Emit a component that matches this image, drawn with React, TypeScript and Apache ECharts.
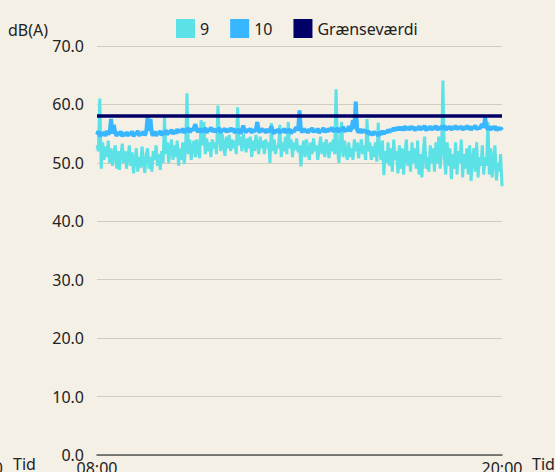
import React, { useEffect, useRef } from "react";
import * as echarts from "echarts";

// one reading every 2.5 minutes from 08:00 to 20:00 (rows = 30 minutes)
const STEP_MIN = 2.5;
const START_MIN = 8 * 60;
const series9: number[] = [
  53.0, 52.0, 61.0, 49.0, 53.5, 50.5, 52.8, 51.0, 53.8, 50.0, 52.5, 49.5,
  51.5, 53.0, 49.0, 52.0, 48.8, 51.5, 53.3, 50.0, 52.0, 49.0, 51.0, 53.0,
  49.5, 51.8, 48.2, 50.5, 52.5, 48.5, 51.0, 49.2, 52.8, 50.0, 48.3, 51.5,
  52.5, 49.0, 51.0, 48.5, 52.0, 50.5, 53.0, 49.5, 51.5, 48.8, 52.0, 50.0,
  58.0, 51.5, 53.5, 50.0, 52.5, 54.0, 50.5, 53.0, 51.0, 53.8, 49.5, 52.5,
  50.5, 53.5, 49.8, 52.5, 61.9, 51.5, 54.0, 50.5, 52.8, 53.8, 51.0, 54.0,
  52.0, 50.8, 57.3, 53.0, 57.0, 51.5, 54.2, 52.0, 53.5, 51.0, 54.0, 52.5,
  53.5, 51.5, 59.8, 54.5, 52.0, 55.0, 53.0, 51.2, 54.5, 52.5, 54.8, 52.0,
  54.0, 52.5, 53.8, 51.5, 59.5, 53.0, 54.5, 52.0, 55.0, 53.5, 51.8, 54.2,
  52.5, 54.5, 51.0, 53.8, 52.0, 54.8, 53.0, 51.5, 54.5, 52.5, 53.8, 51.5,
  54.0, 52.5, 53.5, 50.0, 56.8, 52.0, 54.0, 51.5, 53.0, 52.5, 56.5, 51.0,
  53.5, 52.0, 54.5, 51.5, 57.0, 52.5, 54.0, 51.0, 53.5, 52.2, 54.2, 51.8,
  53.0, 49.4, 52.5, 53.8, 51.0, 54.0, 52.0, 50.5, 53.5, 51.5, 54.2, 52.0,
  53.0, 50.5, 52.5, 54.5, 51.5, 53.5, 51.0, 54.0, 52.5, 50.8, 53.5, 52.0,
  54.0, 51.5, 62.6, 52.5, 50.0, 53.5, 57.0, 51.0, 53.8, 52.0, 50.5, 53.5,
  51.0, 52.5, 50.5, 54.0, 52.0, 53.5, 50.8, 52.5, 54.0, 51.5, 53.0, 50.5,
  57.5, 52.0, 53.5, 50.5, 52.8, 51.0, 53.5, 50.2, 56.9, 52.0, 50.5, 53.8,
  47.9, 52.0, 50.0, 53.5, 49.5, 52.5, 48.5, 54.0, 50.5, 52.0, 48.2, 53.0,
  49.0, 52.5, 48.0, 51.5, 54.0, 49.5, 52.0, 48.5, 53.5, 50.0, 52.5, 49.0,
  53.8, 48.0, 51.5, 47.5, 52.0, 54.5, 49.0, 51.0, 48.5, 53.0, 50.0, 52.5,
  48.5, 53.5, 50.0, 54.5, 49.0, 52.0, 64.1, 51.0, 48.0, 53.5, 49.5, 52.5,
  47.2, 51.5, 49.0, 53.5, 48.0, 52.0, 50.0, 54.0, 47.5, 51.5, 49.0, 52.5,
  48.0, 53.0, 46.9, 50.5, 52.5, 48.5, 53.5, 47.5, 51.0, 49.5, 53.0, 48.0,
  51.0, 49.5, 57.0, 48.0, 52.5, 47.5, 50.5, 53.0, 47.0, 50.0, 48.5, 51.5,
  46.0,
];
const series10: number[] = [
  54.8, 55.4, 54.5, 55.2, 54.7, 55.3, 54.6, 55.5, 54.9, 55.2, 57.5, 55.0,
  56.5, 55.1, 54.6, 55.3, 54.8, 55.4, 54.5, 55.1, 54.7, 55.3, 54.6, 55.2,
  54.8, 55.4, 54.5, 55.1, 54.9, 55.5, 54.6, 55.2, 54.8, 55.4, 54.7, 55.3,
  58.0, 55.5, 57.5, 55.0, 54.7, 55.4, 54.6, 55.2, 54.9, 55.5, 54.7, 55.3,
  55.0, 55.6, 54.8, 55.4, 55.1, 55.7, 54.9, 55.5, 55.0, 55.8, 55.2, 55.6,
  55.3, 55.9, 55.1, 55.7, 55.4, 56.0, 55.2, 55.8, 55.5, 56.1, 56.6, 55.6,
  55.3, 55.9, 55.2, 55.8, 55.4, 56.0, 55.1, 55.7, 55.5, 56.1, 55.3, 55.9,
  55.2, 55.8, 55.4, 56.0, 55.1, 55.7, 55.5, 55.9, 55.2, 55.8, 55.3, 56.0,
  55.4, 55.9, 55.1, 55.7, 55.3, 55.8, 55.0, 55.6, 56.4, 55.5, 55.2, 55.8,
  55.4, 55.9, 55.1, 55.7, 55.3, 55.8, 57.0, 55.5, 55.2, 55.9, 55.4, 55.7,
  55.1, 55.8, 55.3, 55.6, 56.3, 55.4, 55.0, 55.7, 55.2, 55.8, 55.1, 55.6,
  55.3, 55.9, 55.1, 55.7, 55.4, 55.8, 55.0, 55.6, 55.3, 55.9, 56.0, 55.5,
  59.0, 55.6, 55.2, 55.9, 55.3, 55.7, 55.1, 55.8, 55.4, 56.0, 55.2, 55.7,
  55.3, 55.9, 55.1, 55.6, 55.4, 56.0, 55.2, 55.8, 55.3, 55.9, 55.5, 56.1,
  55.3, 55.8, 55.4, 56.0, 55.2, 55.9, 55.5, 56.2, 55.3, 55.8, 55.4, 56.3,
  55.4, 55.9, 57.3, 55.8, 60.5, 55.6, 55.2, 55.8, 55.1, 55.7, 55.3, 55.6,
  55.0, 55.5, 54.8, 55.3, 54.7, 55.4, 54.9, 55.2, 54.6, 55.3, 54.8, 55.5,
  54.9, 55.4, 55.1, 55.7, 55.2, 55.8, 55.4, 56.0, 55.5, 56.1, 55.6, 56.2,
  55.6, 56.2, 55.5, 56.3, 55.7, 56.1, 55.6, 56.3, 55.8, 56.2, 55.5, 56.1,
  55.7, 56.3, 55.6, 56.2, 55.8, 56.4, 55.5, 56.1, 55.7, 56.3, 55.6, 56.2,
  55.8, 56.4, 55.6, 56.2, 55.7, 56.3, 55.9, 56.4, 55.6, 56.2, 55.8, 56.3,
  55.6, 56.2, 55.8, 56.4, 55.7, 56.1, 55.9, 56.3, 55.6, 56.2, 55.8, 56.4,
  55.7, 56.3, 55.6, 56.2, 55.9, 56.4, 55.7, 56.1, 55.8, 56.3, 56.6, 56.0,
  57.8, 56.1, 55.7, 56.3, 55.6, 56.2, 55.8, 56.3, 55.5, 56.1, 55.7, 56.0,
  55.6,
];
const limitValue = 58;
const seriesNames = ["9", "10", "Grænseværdi"];
const yTicks = { min: 0, max: 70, interval: 10 };
const xRange = { min: 0, max: 720 };

const fmtTime = (m: number) => {
  const t = START_MIN + m;
  const h = Math.floor(t / 60);
  const mm = t % 60;
  return `${String(h).padStart(2, "0")}:${String(mm).padStart(2, "0")}`;
};

const FONT = "Noto Sans";
const TEXT = "#222222";

export default function App() {
  const ref = useRef<HTMLDivElement>(null);
  useEffect(() => {
    document.body.style.margin = "0";
    if (!ref.current) return;
    const chart = echarts.init(ref.current, undefined, { renderer: "svg" });
    const d9 = series9.map((v, i) => [i * STEP_MIN, v]);
    const d10 = series10.map((v, i) => [i * STEP_MIN, v]);
    const dl = [
      [xRange.min, limitValue],
      [xRange.max, limitValue],
    ];
    chart.setOption({
      animation: false,
      backgroundColor: "#f5f0e5",
      textStyle: { fontFamily: FONT },
      legend: {
        left: 171,
        top: 14,
        itemWidth: 19,
        itemHeight: 19,
        itemGap: 21,
        icon: "rect",
        data: seriesNames,
        textStyle: { fontFamily: FONT, fontSize: 16, color: TEXT },
      },
      grid: {
        left: 97,
        right: 53,
        top: 46,
        bottom: 17,
        containLabel: false,
        outerBoundsMode: "none",
      },
      xAxis: {
        type: "value",
        min: xRange.min,
        max: xRange.max,
        interval: 720,
        name: "Tid",
        nameLocation: "end",
        nameGap: 30,
        nameTextStyle: {
          fontFamily: FONT,
          fontSize: 16,
          color: TEXT,
          align: "left",
          verticalAlign: "top",
          padding: [1, 0, 0, 0],
        },
        axisLine: { show: true, lineStyle: { color: "#555555", width: 1.5 } },
        axisTick: { show: false },
        splitLine: { show: false },
        axisLabel: {
          margin: 5,
          fontFamily: FONT,
          fontSize: 16,
          color: TEXT,
          formatter: (v: number) => fmtTime(v),
        },
      },
      yAxis: {
        type: "value",
        min: yTicks.min,
        max: yTicks.max,
        interval: yTicks.interval,
        name: "dB(A)",
        nameLocation: "end",
        nameGap: 5,
        nameTextStyle: {
          fontFamily: FONT,
          fontSize: 16,
          color: TEXT,
          align: "right",
          padding: [0, 49, 0, 0],
        },
        axisLine: { show: false },
        axisTick: { show: false },
        splitLine: { show: true, lineStyle: { color: "#cfccc2", width: 1 } },
        axisLabel: {
          margin: 13,
          fontFamily: FONT,
          fontSize: 16,
          color: TEXT,
          formatter: (v: number) => v.toFixed(1),
        },
      },
      graphic: [
        {
          type: "text",
          x: 3,
          y: 460,
          style: {
            text: "20:00",
            align: "right",
            verticalAlign: "top",
            font: `16px ${FONT}`,
            fill: TEXT,
          },
        },
        {
          type: "text",
          x: 13,
          y: 456,
          style: {
            text: "Tid",
            align: "left",
            verticalAlign: "top",
            font: `16px ${FONT}`,
            fill: TEXT,
          },
        },
      ],
      series: [
        {
          name: seriesNames[0],
          type: "line",
          data: d9,
          symbol: "none",
          color: "#5ce1e6",
          lineStyle: { width: 3, color: "#5ce1e6" },
        },
        {
          name: seriesNames[1],
          type: "line",
          data: d10,
          symbol: "none",
          color: "#38b6ff",
          lineStyle: { width: 4, color: "#38b6ff" },
        },
        {
          name: seriesNames[2],
          type: "line",
          data: dl,
          symbol: "none",
          color: "#000066",
          lineStyle: { width: 3.5, color: "#000066" },
        },
      ],
    });
    return () => chart.dispose();
  }, []);
  return <div ref={ref} style={{ width: 555, height: 472 }} />;
}
